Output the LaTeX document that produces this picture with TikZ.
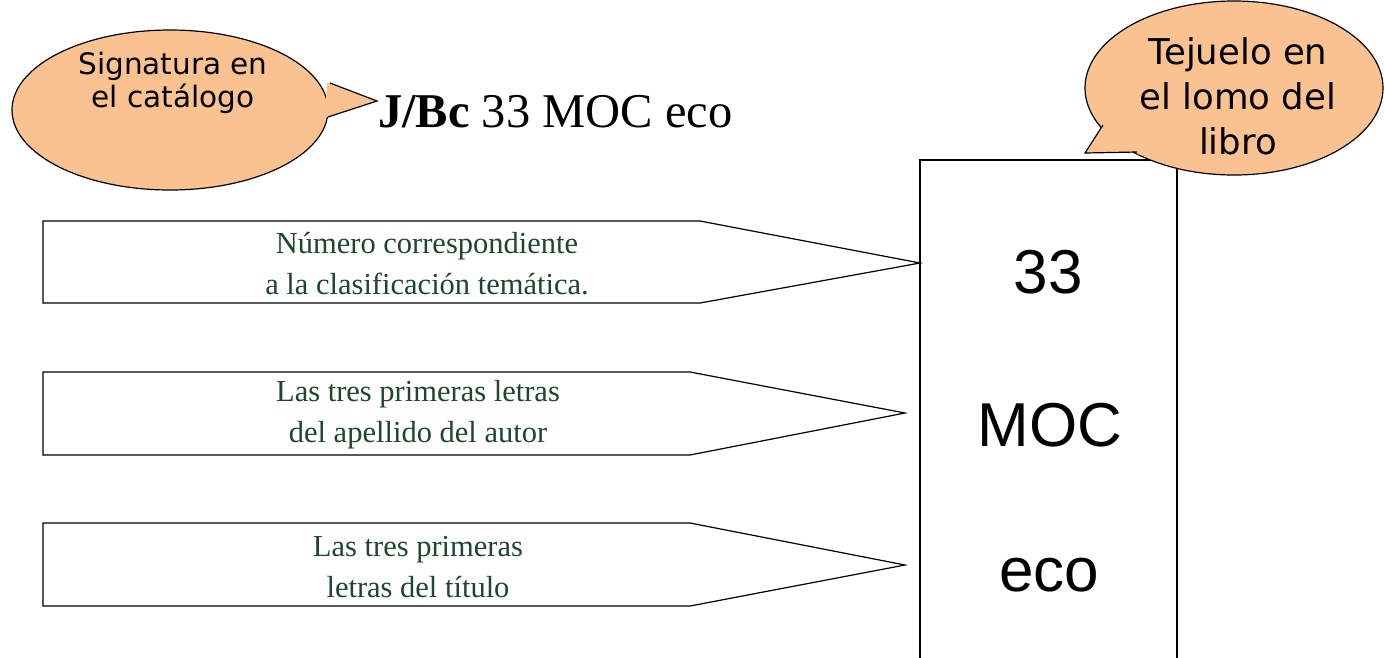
\documentclass[tikz,border=0pt]{standalone}
\usepackage{fontspec}
\setmainfont{Liberation Serif}
\newfontfamily\calloutfont{DejaVu Sans}
\newfontfamily\spinefont{Liberation Sans}
\usetikzlibrary{shapes.geometric}
\definecolor{peach}{RGB}{250,194,145}
\definecolor{dkgreen}{RGB}{30,72,42}
\tikzset{
  bubble/.style={ellipse,draw=black,fill=peach,line width=1.2pt,inner sep=0pt},
  bubbletext/.style={font=\calloutfont,align=center,text=black},
  pointer/.style={draw=black,fill=white,line width=1.2pt,line join=miter},
  pointertext/.style={font=\fontsize{30.5}{41}\selectfont,text=dkgreen,align=center},
  spinetext/.style={font=\spinefont\fontsize{62}{64}\selectfont}
}
\begin{document}
\begin{tikzpicture}[x=1pt,y=-1pt]
\useasboundingbox (0,0) rectangle (1384,657);
% book spine
\draw[line width=1.2pt] (920,662) -- (920,160) -- (1177,160) -- (1177,662);
\node[spinetext] (n33) at (1048,272) {33};
\node[spinetext] (nmoc) at (1050,425) {MOC};
\node[spinetext] (neco) at (1049,575) {eco};
% pointers
\draw[pointer] (43,221) -- (700,221) -- (920,263) -- (700,303) -- (43,303) -- cycle;
\draw[pointer] (43,372) -- (690,372) -- (905,413) -- (690,455) -- (43,455) -- cycle;
\draw[pointer] (43,523) -- (690,523) -- (905,565) -- (690,606) -- (43,606) -- cycle;
\node[pointertext] (p1) at (427,264) {Número correspondiente\\a la clasificación temática.};
\node[pointertext] (p2) at (418,415) {Las tres primeras letras\\ del apellido del autor};
\node[pointertext] (p3) at (418,567) {Las tres primeras\\ letras del título};
% title
\node[anchor=west,font=\fontsize{48.5}{50}\selectfont,inner sep=0pt] (title) at (378,112) {\textbf{J/Bc} 33 MOC eco};
% callout 1
\node[bubble,minimum width=316pt,minimum height=160pt] (c1) at (170,110) {};
\coordinate (t1a) at (330,83);
\coordinate (t1tip) at (377,101);
\coordinate (t1b) at (328,117);
\fill[peach] (t1a) -- (t1tip) -- (t1b) -- ([xshift=-3pt]t1b) -- ([xshift=-3pt]t1a) -- cycle;
\draw[line width=1.2pt,line join=miter] (t1a) -- (t1tip) -- (t1b);
\node[bubbletext,font=\calloutfont\fontsize{29.5}{33}\selectfont] (c1t) at (173,83) {Signatura en\\el catálogo};
% callout 2
\node[bubble,minimum width=298pt,minimum height=174pt] (c2) at (1234,88) {};
\coordinate (t2a) at (1103,125);
\coordinate (t2tip) at (1085,153);
\coordinate (t2b) at (1137,152);
\fill[peach] (t2a) -- (t2tip) -- (t2b) -- ([shift={(2pt,-3pt)}]t2b) -- ([shift={(3pt,-2pt)}]t2a) -- cycle;
\draw[line width=1.2pt,line join=miter] (t2a) -- (t2tip) -- (t2b);
\node[bubbletext,font=\calloutfont\fontsize{35.5}{45}\selectfont] (c2t) at (1238,96) {Tejuelo en\\el lomo del\\libro};
\end{tikzpicture}
\end{document}
